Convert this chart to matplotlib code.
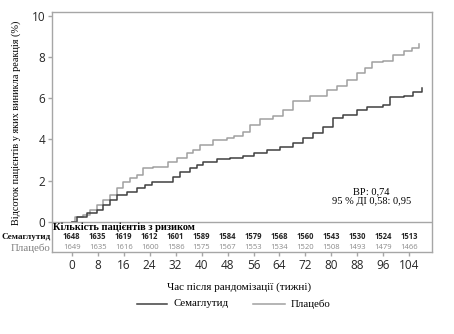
import numpy as np
import matplotlib
matplotlib.use("Agg")
import matplotlib.pyplot as plt
from matplotlib.lines import Line2D

# cumulative incidence (%), step curves
sema_weeks = [0, 1.5, 4.6, 7.7, 9.7, 11.8, 13.9, 16.9, 20, 22.6, 24.6, 29.8, 31.3, 33.4, 36.4,
              38.5, 40.5, 44.7, 48.8, 52.9, 56, 60, 64.2, 68.3, 71.3, 74.4, 77.5, 80.6, 83.7,
              87.8, 90.9, 96, 98, 102.2, 105.2, 107.8]
sema_pct = [0, 0.24, 0.41, 0.57, 0.81, 1.05, 1.3, 1.46, 1.62, 1.78, 1.94, 1.94, 2.15, 2.43, 2.59,
            2.75, 2.91, 3.03, 3.08, 3.19, 3.35, 3.48, 3.64, 3.84, 4.05, 4.29, 4.61, 5.02, 5.18,
            5.42, 5.55, 5.67, 6.07, 6.12, 6.31, 6.48]

plac_weeks = [0, 1.0, 3.6, 5.6, 7.7, 9.7, 11.8, 13.9, 15.9, 18, 20, 22.1, 25, 29.8, 32.3, 35.4,
              37.4, 39.5, 43.6, 47.7, 50, 52.9, 54.9, 58, 62.1, 65.2, 68.3, 73.4, 78.5, 81.6,
              84.7, 87.8, 90.4, 92.4, 96, 99.1, 102.2, 104.7, 107]
plac_pct = [0, 0.24, 0.33, 0.57, 0.81, 1.05, 1.3, 1.62, 1.94, 2.1, 2.27, 2.59, 2.67, 2.91, 3.08, 3.32,
            3.48, 3.72, 3.97, 4.08, 4.15, 4.37, 4.69, 4.97, 5.13, 5.42, 5.86, 6.1, 6.39, 6.59,
            6.88, 7.2, 7.45, 7.74, 7.82, 8.09, 8.29, 8.42, 8.63]

risk_weeks = [0, 8, 16, 24, 32, 40, 48, 56, 64, 72, 80, 88, 96, 104]
risk_sema = [1648, 1635, 1619, 1612, 1601, 1589, 1584, 1579, 1568, 1560, 1543, 1530, 1524, 1513]
risk_plac = [1649, 1635, 1616, 1600, 1586, 1575, 1567, 1553, 1534, 1520, 1508, 1493, 1479, 1466]

dark = '#404040'
light = '#a0a0a0'
frame = '#a6a6a6'
serif = 'Liberation Serif'
sans = ['Open Sans', 'DejaVu Sans']

fig = plt.figure(figsize=(4.54, 3.34), dpi=100)
ax = fig.add_axes([0.1152, 0.2446, 0.951 - 0.1152, 0.9632 - 0.2446])

ax.step(plac_weeks, plac_pct, where='post', color=light, lw=1.1)
ax.step(sema_weeks, sema_pct, where='post', color=dark, lw=1.1)
ax.axhline(0, color=frame, lw=1)

ax.set_xlim(-5.98, 110.9)
ax.set_ylim(-1.485, 10.165)
ax.set_xticks(risk_weeks)
ax.set_yticks(range(0, 11, 2))
ax.tick_params(colors=frame, labelcolor='#262626', labelsize=8.5, length=3, width=1, pad=2)
for lab in ax.get_xticklabels() + ax.get_yticklabels():
    lab.set_family(sans)
for s in ax.spines.values():
    s.set_color(frame)
    s.set_linewidth(1)

ax.text(-5.7, -0.05, 'Кількість пацієнтів з ризиком', family=serif, fontweight='bold',
        fontsize=7.5, va='top', ha='left')
for w, a, b in zip(risk_weeks, risk_sema, risk_plac):
    ax.text(w, -0.73, str(a), ha='center', va='center', fontsize=5.5, fontweight='bold',
            color='#262626', family=sans)
    ax.text(w, -1.27, str(b), ha='center', va='center', fontsize=5.5, color='#8a8a8a', family=sans)
ax.text(-6.6, -0.73, 'Семаглутид', ha='right', va='center', family=serif, fontweight='bold',
        fontsize=6.6, color='#111111')
ax.text(-6.6, -1.27, 'Плацебо', ha='right', va='center', family=serif, fontsize=7.8, color='#808080')

ax.text(92.4, 1.21, 'ВР: 0,74\n95 % ДІ 0,58: 0,95', ha='center', va='center', family=serif,
        fontsize=7.5, linespacing=1.1)

ax.set_ylabel('Відсоток пацієнтів у яких виникла реакція (%)', family=serif, fontsize=7.4)
ax.yaxis.set_label_coords(-0.082, 0.54)
fig.text(239 / 454, 1 - 287 / 334, 'Час після рандомізації (тижні)', family=serif, fontsize=8,
         ha='center', va='center')

# legend drawn by hand to match the spacing of the reference
ly = 1 - 304 / 334
fig.add_artist(Line2D([137 / 454, 167 / 454], [ly, ly], color=dark, lw=1.1))
fig.text(174 / 454, ly, 'Семаглутид', family=serif, fontsize=7.8, va='center', ha='left')
fig.add_artist(Line2D([253 / 454, 285 / 454], [ly, ly], color=light, lw=1.1))
fig.text(291 / 454, ly, 'Плацебо', family=serif, fontsize=7.8, va='center', ha='left')

fig.savefig('out.png', dpi=100)
